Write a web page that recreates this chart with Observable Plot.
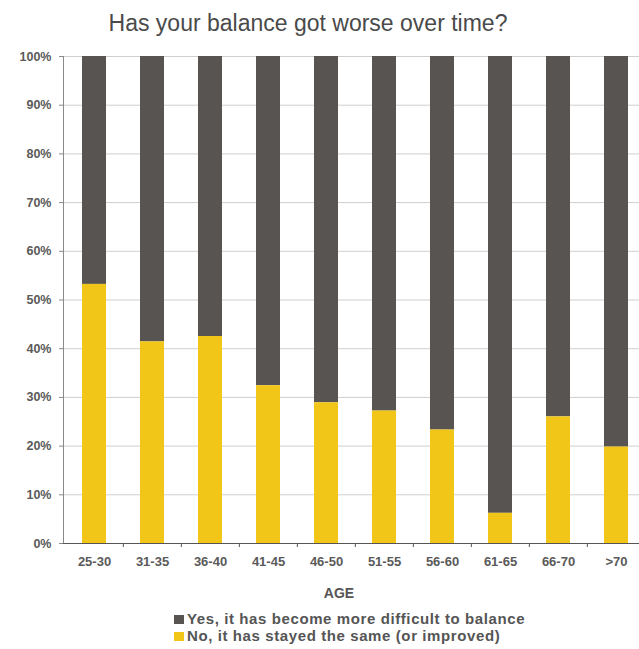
<!DOCTYPE html>
<html>
<head>
<meta charset="utf-8">
<script src="https://cdn.jsdelivr.net/npm/d3@7"></script>
<script src="https://cdn.jsdelivr.net/npm/@observablehq/plot@0.6"></script>
<style>
  html, body { margin: 0; padding: 0; background: #fff; overflow: hidden; }
  #wrap { position: relative; width: 639px; height: 649px; font-family: "Liberation Sans", Arial, sans-serif; }
  #title { position: absolute; left: 0; width: 616px; top: 12px; line-height: 1; text-align: center; font-size: 23px; color: #4a4a4a; white-space: nowrap; }
  #chart { position: absolute; left: 0; top: 45px; }
  #xlabel { position: absolute; left: 0; width: 678px; top: 586px; line-height: 1; text-align: center; font-size: 14px; font-weight: bold; color: #555; }
  .legend { position: absolute; left: 174px; line-height: 1; font-size: 15px; font-weight: bold; letter-spacing: 0.6px; color: #555; white-space: nowrap; }
  .legend span.sw { display: inline-block; width: 10px; height: 9px; margin-right: 3px; vertical-align: baseline; }
</style>
</head>
<body>
<div id="wrap">
  <div id="title">Has your balance got worse over time?</div>
  <div id="chart"></div>
  <div id="xlabel">AGE</div>
  <div id="legend"></div>
</div>
<script>
// Age groups along the x axis
const ages = ["25-30", "31-35", "36-40", "41-45", "46-50", "51-55", "56-60", "61-65", "66-70", ">70"];
// Share of respondents per answer (percent), per age group
const yesShare = [46.8, 58.6, 57.5, 67.6, 71.1, 72.8, 76.7, 93.8, 74.0, 80.2];
const noShare  = [53.2, 41.4, 42.5, 32.4, 28.9, 27.2, 23.3,  6.2, 26.0, 19.8];
// Answer labels and their colours
const series = ["Yes, it has become more difficult to balance", "No, it has stayed the same (or improved)"];
const seriesColors = ["#575451", "#f2c618"];
// Percent ticks on the y axis
const yTicks = [0, 10, 20, 30, 40, 50, 60, 70, 80, 90, 100];

const rows = [];
ages.forEach((age, i) => {
  rows.push({age, series: series[0], value: yesShare[i]});
  rows.push({age, series: series[1], value: noShare[i]});
});

const left = 63.4, step = 58.3;
const chart = Plot.plot({
  width: 639,
  height: 530,
  marginLeft: 63,
  marginRight: 0,
  marginTop: 11,
  marginBottom: 32,
  style: {fontFamily: "'Liberation Sans', Arial, sans-serif", overflow: "hidden"},
  x: {type: "band", domain: ages, range: [left, left + step * ages.length], paddingInner: 0.58, paddingOuter: 0.29},
  y: {domain: [0, 100]},
  color: {domain: series, range: seriesColors},
  marks: [
    Plot.gridY(yTicks, {stroke: "#cfcfcf", strokeOpacity: 1}),
    Plot.barY(rows, {x: "age", y: "value", fill: "series", order: [series[1], series[0]]}),
    Plot.frame({anchor: "left", stroke: "#8a8a8a"}),
    Plot.ruleY([0], {stroke: "#555"}),
    Plot.axisY(yTicks, {tickFormat: d => d + "%", tickSize: 4, tickPadding: 8, stroke: "#8a8a8a", fill: "#5a5a5a", fontSize: 12.5, fontWeight: "bold", label: null}),
    Plot.axisX(ages.slice(1), {tickSize: 4, tickFormat: () => "", dx: -step / 2, stroke: "#555", label: null}),
    Plot.axisX(ages, {tickSize: 0, tickPadding: 13, fill: "#5a5a5a", fontSize: 13, fontWeight: "bold", label: null})
  ]
});
document.getElementById("chart").appendChild(chart);

// Legend rows below the chart
const legend = document.getElementById("legend");
series.forEach((s, i) => {
  const row = document.createElement("div");
  row.className = "legend";
  row.style.top = (610.6 + i * 17.2) + "px";
  row.innerHTML = `<span class="sw" style="background:${seriesColors[i]}"></span>${s}`;
  legend.appendChild(row);
});
</script>
</body>
</html>
